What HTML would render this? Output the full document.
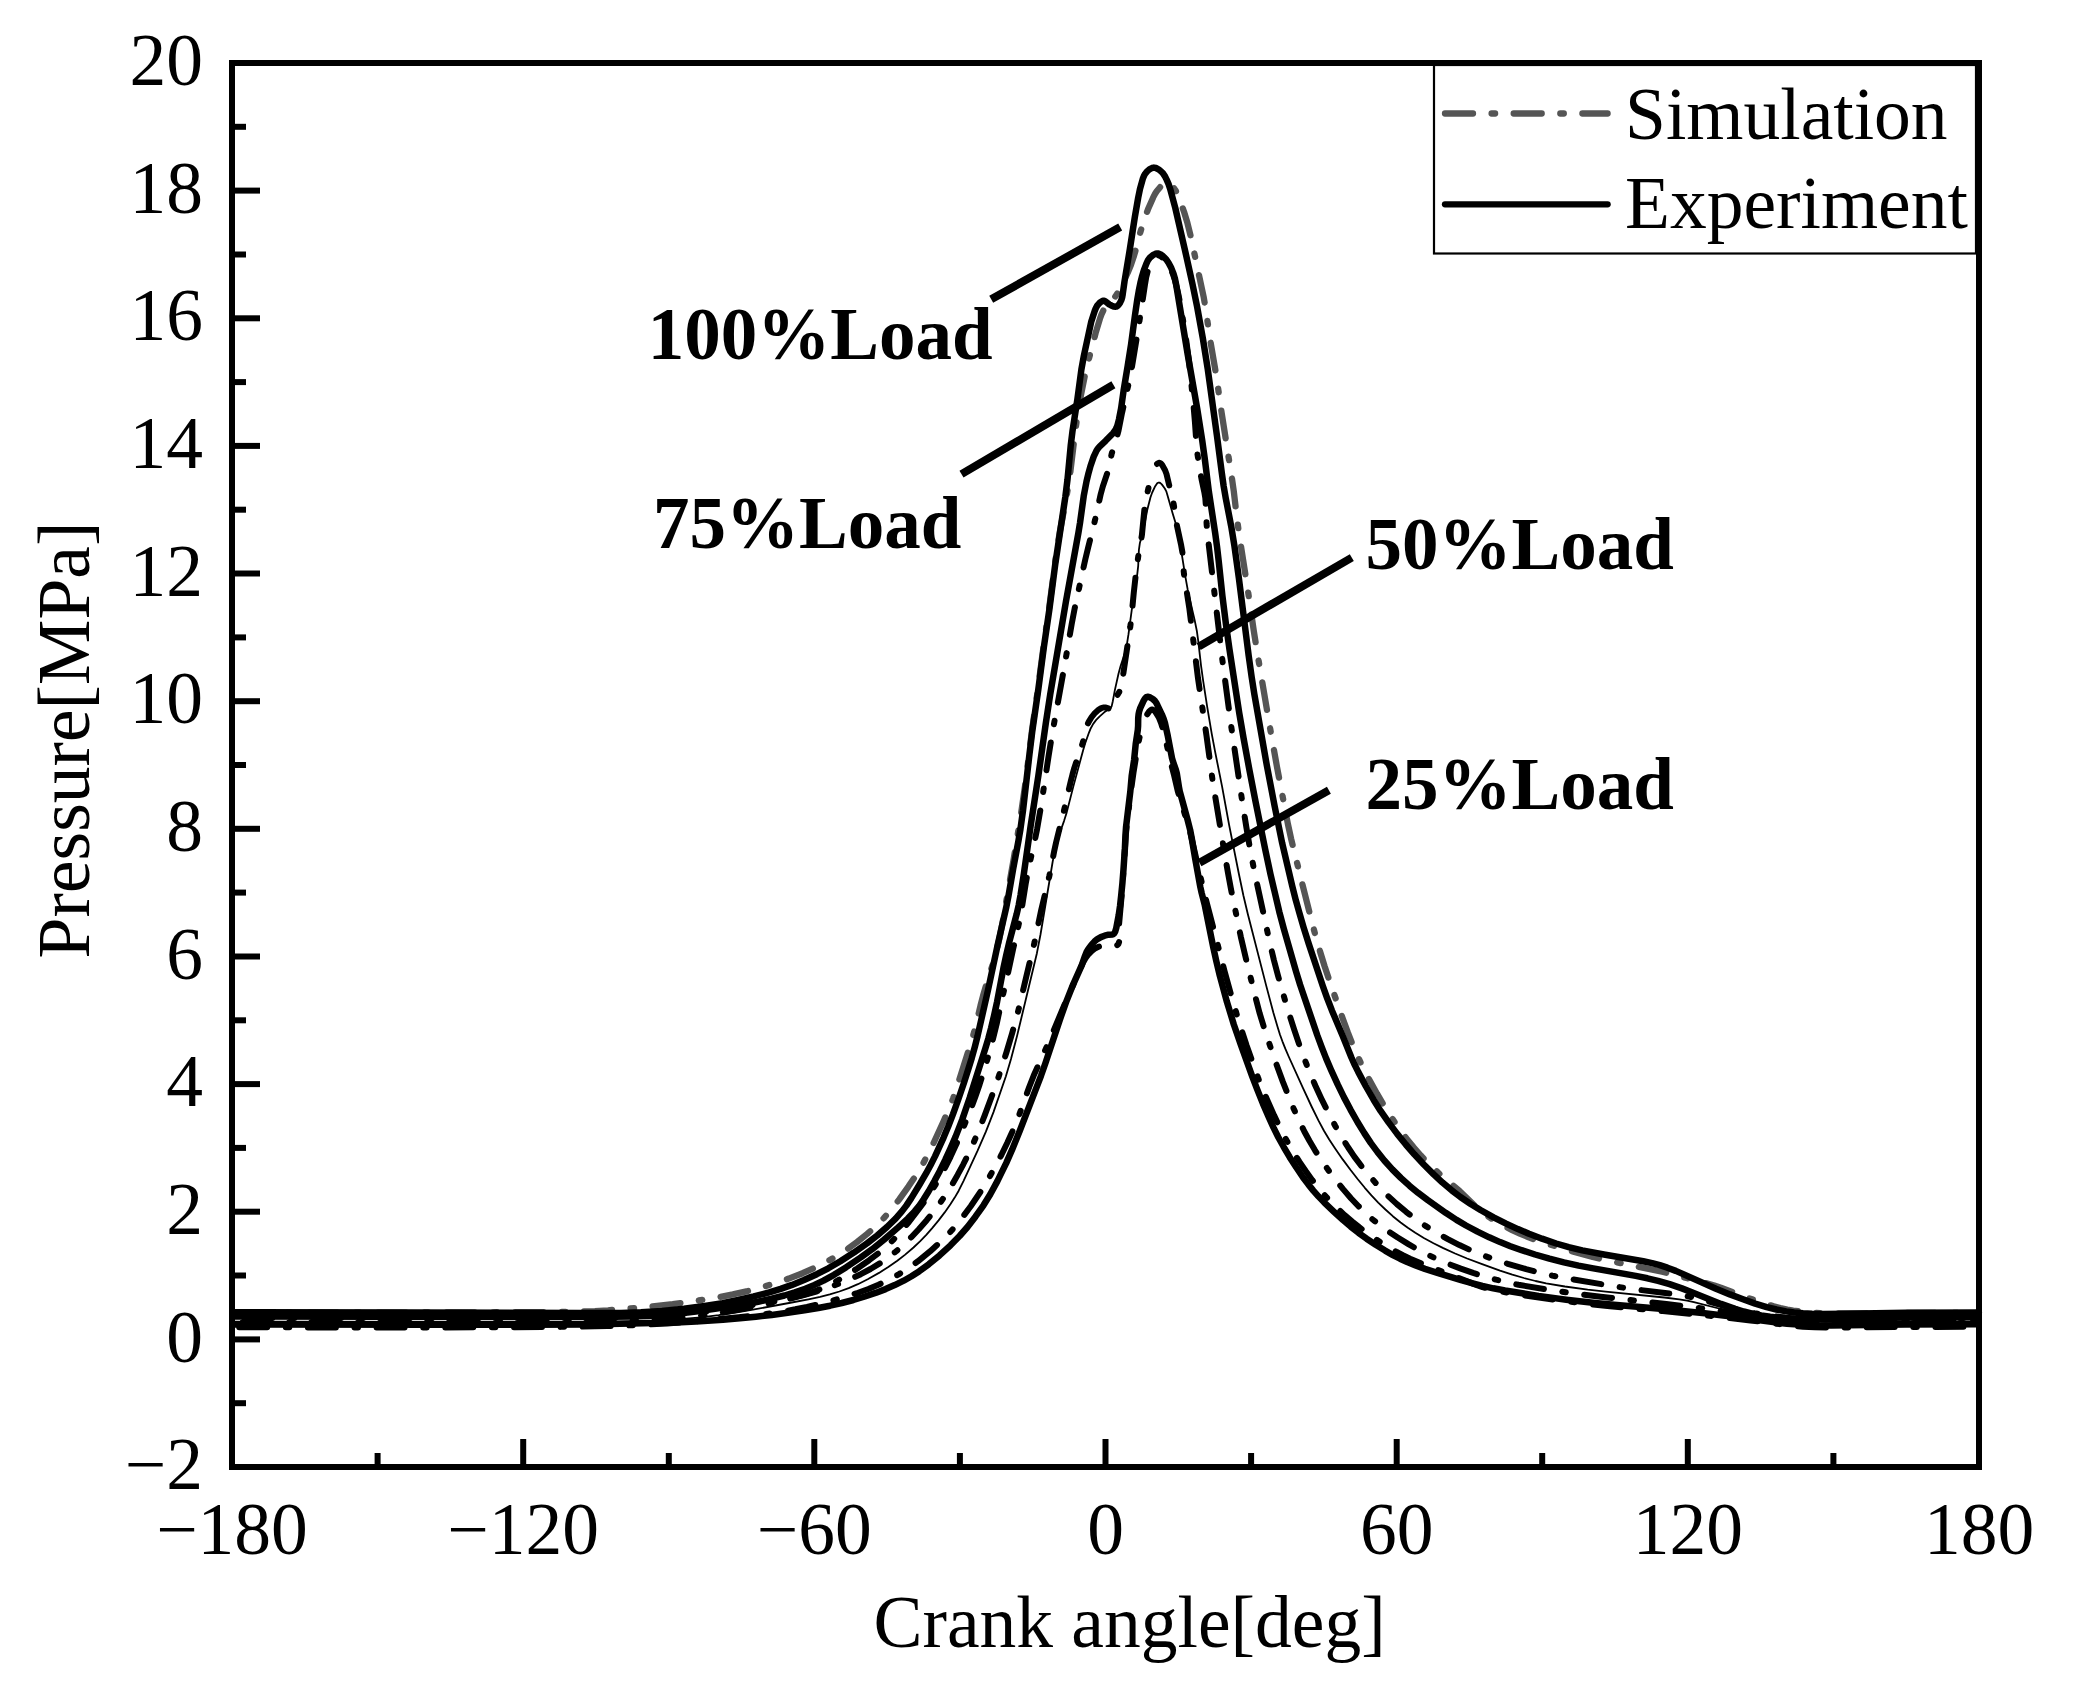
<!DOCTYPE html>
<html lang="en"><head><meta charset="utf-8"><title>Cylinder pressure: simulation vs experiment</title>
<style>html,body{margin:0;padding:0;background:#fff}body{width:2074px;height:1703px;overflow:hidden}svg{display:block}text{font-family:'Liberation Serif','Times New Roman',Times,serif;fill:#000}</style></head><body>
<svg width="2074" height="1703" viewBox="0 0 2074 1703">
<rect width="2074" height="1703" fill="#fff"/>
<g fill="none" stroke-linejoin="round">
<path d="M232.0 1312.6l171 0l141.1 -0.5l37 -0.5l13.9 -0.5l13 -0.8l41.9 -3.6l22.8 -2.5l25.8 -3.7l19.7 -3.2l14.7 -2.9l14.7 -3.3l13.5 -3.5l14.3 -4.4l13.3 -4.6l13.9 -5.4l12.8 -5.7l10.7 -5.4l10.4 -5.9l10.1 -6.5l10.5 -7.7l10.1 -8.1l8.9 -8l7.7 -7.8l7.3 -8.3l8 -10.2l9.3 -13l7.8 -11.6l6.7 -11.2l5.2 -9.6l5.3 -10.8l10.4 -22.7l6 -13.8l3.3 -8.3l3.2 -9.5l16 -50.5l3.2 -11.6l5 -21.4l2.5 -9.6l2.8 -9.6l6.9 -22l3 -10.5l3.5 -14.6l3.5 -17.7l10.9 -62l7.1 -43.5l5.1 -35.6l6.4 -51.6l5.7 -39.6l5.6 -42.6l5.4 -36.7l7.3 -55.5l3.8 -23.7l6.2 -32.4l2 -11.8l2.3 -15.9l4.3 -35.7l2 -14.9l4.1 -24.6l4.3 -21.6l1.8 -7.8l8.6 -32.9l4.3 -14.4l1.7 -4.7l1.7 -3.6l1.6 -2.5l2 -2.3l6.2 -6.5l1.9 -2.3l1.7 -2.5l2.5 -4.3l2.8 -5.3l5.6 -11.8l3.4 -8.3l2.6 -7.6l2.8 -9.6l4 -15.5l4.4 -14.3l3.2 -8.4l5.2 -11.9l1.9 -3.6l1.6 -2.5l3.8 -4.6l1.5 -1.4l1.6 -1.1l1.9 -0.7l1 0" stroke="#555" stroke-width="6.3" stroke-dasharray="28 18.60 3.5 18.60" stroke-linecap="round" stroke-dashoffset="60.1"/>
<path d="M1166.5 183.5l1.9 0.5l2.6 1.5l2.9 2.7l1.8 2.4l1.8 3.6l1.5 3.7l5.1 14.1l3.2 10.5l3.6 14.6l12.9 60.6l1.5 8.9l5.1 34.6l5.9 34.5l5.4 37.6l10.4 66.2l1.7 11.9l3.4 28.8l2.3 16.8l8.4 53.4l5.9 40.6l3.8 23.7l12.9 75.9l6.5 36.4l10.9 57l3.2 14.7l4.5 18.4l16.3 65l4.4 16.4l4.2 14.5l4.1 13.3l5.1 15.2l11.9 34l6.2 16.9l5.1 13l4.8 11l5.1 10.8l6 11.6l8.2 14.9l8.1 13.8l7 10.9l7.3 10.7l7.2 9.6l7 8.6l7.2 8.2l7.6 8l5.8 5.5l5.1 4.7l20.5 17.5l15.8 15.2l7.5 6.5l5.7 4l6.7 4.3l7.8 4.4l8.9 4.5l8.2 3.8l8.3 3.4l8.4 3.1l9.5 3.1l27.8 8.5l18.3 5l19.5 4.4l49.9 10.3l9.7 2.4l34.8 9.3l7.7 2.2l6.6 2.2l28.1 10.5l17 5.7l7.7 2.3l6.7 1.8l6.9 1.5l5.9 1l8.9 1.2l8.9 0.8l11 0.6l13 0.3l19 0l55 -0.5l70 -0.2" stroke="#555" stroke-width="6.3" stroke-dasharray="28 18.60 3.5 18.60" stroke-linecap="round" stroke-dashoffset="37.6"/>
<path d="M232.0 1312.3l179 0.2l168.1 0.5l42 -0.1l19.9 -0.6l21 -1.4l21.9 -2.1l20.8 -2.8l17.8 -2.9l15.7 -3.1l15.6 -3.6l15.4 -4l11.5 -3.5l11.3 -4l12 -4.9l12.8 -5.8l11.5 -5.9l12.1 -7.1l13.5 -8.6l13.1 -9.2l10.2 -7.9l9.8 -8.5l8.6 -8.4l6.5 -7.5l4.2 -5.5l5 -7.5l8.3 -13.6l6.6 -11.3l4.3 -7.9l4.5 -8.9l8.7 -19.1l4.6 -11.1l4.7 -12.1l5.1 -14.1l5.8 -17l4.3 -13.4l3.5 -11.4l3.2 -11.6l2.7 -10.7l10.4 -45.8l9.4 -44l8.7 -38l2.3 -11.8l4.8 -27.6l5.2 -27.5l2 -11.8l2.6 -18.8l6.5 -56.7l2.8 -22.8l6 -41.6l5.6 -42.6l5.5 -37.6l5.8 -44.6l10.2 -68.3l2.1 -16.9l3.2 -33.8l1.7 -13.9l5 -32.6l4 -29.8l2.5 -13.8l7.4 -34.2l3.4 -10.4l1.1 -2.8l1.4 -2.6l2 -2.3l1.5 -1.3l1.7 -1l1 -0.2l1 0l0.9 0.5l3.9 3.1l2.7 1.3l1.8 0.8l2 0.2l0.9 -0.2l0.9 -0.6l1.4 -1.4l1.1 -1.6l1.3 -2.7l0.9 -2.9l0.5 -2.9l1.8 -12.9l5.4 -32.6l4.9 -31.6l3.4 -19.7l1.8 -8.8l3 -10.6l1.2 -2.8l1 -1.7l1.9 -2.3l2.3 -2l2.6 -1.4l1.9 -0.4l2 0.4l2.6 1.3l2.4 1.9l2.1 2.1l1.7 2.5l1.8 3.6l2 4.5l1.6 4.8l5.2 19.3l9.4 40.9l7.8 35.2l4.6 22.5l5.7 31.5l4.9 30.6l9.3 67.4l4.8 36.7l1.8 12.9l2.2 12.8l5.7 29.4l2.9 17.8l4.5 32.7l9.8 77.4l2.9 20.8l2.8 17.8l12.4 70.9l7.9 41.2l7.4 36.3l10 42.8l3.7 14.6l3.5 12.5l4.2 14.4l5.4 17.2l13.9 41.7l4.4 12.3l4.7 12.1l10.5 24.8l9 22.3l3.3 7.3l3.5 7.1l7.5 14.1l8 13.9l6.9 11l8 11.5l8.4 11.2l8.8 10.9l8.5 9.8l9.5 10.2l9.9 9.9l8.8 8.2l9.2 7.7l8.7 6.7l9.9 6.7l10.2 6.3l13.1 7.3l12.5 6.3l11.8 5.5l11.1 4.6l13 5l14.2 4.8l12.5 3.7l13.6 3.2l21.6 4.1l39.4 6.8l8.8 1.8l7.7 2.1l7.6 2.5l8.4 3.2l40.2 17.8l13.9 5.7l13.1 4.9l12.2 4.3l11.5 3.5l9.7 2.4l9.8 1.9l7.9 1.1l8.9 0.8l9 0.5l11 0.1l22 -0.1l61 -1l73 -0.3" stroke="#000" stroke-width="6.5"/>
<path d="M232.0 1318.0l226 0.2l85 0.4l41 -0.3l39 -1.2l39 -2.1l17.9 -1.3l17 -1.5l14.9 -1.5l14.9 -1.8l15.8 -2.2l16.8 -2.7l14.8 -2.6l13.7 -2.8l10.7 -2.5l9.6 -2.6l7.6 -2.6l7.3 -3l9.9 -4.8l11.3 -6.4l12.7 -8l12.3 -8.5l8.8 -6.6l8.3 -7.1l7.2 -6.9l7.5 -8.1l7 -8.4l8.6 -11.1l7.8 -10.4l6.2 -9.1l4.8 -7.6l5 -8.6l5.2 -9.7l4.9 -9.8l5.9 -12.7l6.2 -14.7l6.8 -16.8l5.6 -14.9l4.6 -13.3l4.5 -14.2l4.6 -15.4l4.2 -15.4l3.8 -15.6l5.2 -24.4l6.3 -27.3l5 -23.5l6 -26.3l2.4 -12.7l4.1 -25.7l2.1 -11.8l2.3 -10.8l4.8 -21.4l2.2 -10.8l4.2 -24.7l7.3 -48.4l3.5 -21.7l12.3 -67.9l7.3 -42.4l3 -15.7l10.6 -48.9l2.8 -11.7l6.8 -27.1l5.8 -26.4l2.1 -7.7l4.8 -14.3l1.2 -4.8l2.9 -13.7l5 -16.2l1.8 -6.8l3.5 -17.7l6.6 -29.2l3.5 -17.7l6.8 -41.4l6 -39.6l1.3 -7.9l1.2 -4.8l1.9 -5.7l1.7 -3.7l2.1 -3.3" stroke="#000" stroke-width="6.0" stroke-dasharray="28 18.60 3.5 18.60" stroke-linecap="round" stroke-dashoffset="56.3"/>
<path d="M1153.1 259.7l1.9 -2.4l1.5 -1.3l0.9 -0.4l1 -0.1l1 0.2l0.9 0.4l1.7 1.1l2.9 2.7l1.9 2.4l2.1 3.4l1.8 3.5l2.1 4.6l2.2 6.6l2.9 11.7l2 9.7l1.5 7.9l4.8 30.6l2.7 19.8l1.5 14l3.5 35.8l1.1 13l1.5 21.9l0.9 9l2.2 14.8l2.2 11.8l2.5 11.7l1 6l0.6 7.9l0.7 18l1.1 11.9l14.7 124.2l8.7 65.4l11.3 77.2l4 24.7l3.7 21.7l4.3 22.5l15.9 73.4l3.7 15.5l4.1 15.5l4.6 16.4l5.7 19.1l5.8 18.1l5.4 16.1l4.8 13.2l5.1 13l5.9 13.8l6.7 14.5l6.7 13.5l6.5 12.3l6.5 11.3l6.4 10.2l6.1 9.1l7.2 9.6l8.2 10l9.3 10.5l9.1 9.3l8.8 8.1l9.2 7.7l9.5 7.3l9.9 6.8l11 6.9l11.3 6.3l11.6 6l11.8 5.4l12 4.9l11.3 4.1l13.3 4.3l18.3 5.3l15.4 4l10.7 2.5l11.8 2.3l51.3 8.6l21.8 3.1l37.7 4.6l10.8 1.7l6.9 1.4l6.8 1.6l30.8 8.7l15.5 3.8l8.8 1.8l9.9 1.7l10.8 1.5l10 1.2l8.9 0.8l10 0.6l21 0.4l19 -0.1l61 -1.3l74 0" stroke="#000" stroke-width="6.0" stroke-dasharray="28 18.60 3.5 18.60" stroke-linecap="round" stroke-dashoffset="39.0"/>
<path d="M232.0 1316.5l321.1 0.5l38 -0.1l41 -0.5l22 -0.7l18.9 -1.5l22.9 -2.7l32.7 -4.6l15.8 -2.6l13.7 -2.6l13.7 -3l12.6 -3.2l10.5 -3.2l10.4 -3.6l9.2 -3.8l9 -4.3l10.5 -5.8l11.9 -7.4l14.9 -10l11.4 -8.2l11.7 -9.4l14.3 -12.4l9.6 -8.8l6.8 -7.2l4.4 -5.4l4.5 -6.5l5.3 -8.5l5.9 -10.4l5.1 -9.7l5.3 -10.8l5.4 -11.8l5.2 -11.9l6.5 -16.8l7.5 -21.8l15.7 -49.5l2.9 -9.6l2.8 -10.6l3 -12.7l3 -13.7l6.3 -33.4l2.7 -12.7l3.2 -13.6l7.4 -28.1l2 -8.7l1.8 -9.9l3.4 -21.7l6.7 -47.5l7.8 -50.5l7.4 -52.4l4.4 -28.7l15.7 -92.7l12.5 -68.9l1.6 -9.9l3.7 -26.8l2.8 -14.7l2.1 -8.7l1.9 -6.8l3.2 -9.4l2.6 -5.5l1.6 -2.5l1.9 -2.3l5.8 -5.5l7.7 -7.9l2.3 -3.3l0.9 -1.8l1 -2.8l1.5 -5.8l2.1 -10.8l2.5 -17.8l4.1 -24.7l3.4 -21.7l4 -29.8l2.2 -14.8l1.5 -8.9l1.6 -7.8l1.7 -6.8l1.7 -5.8l2.5 -6.5l1.7 -3.6l1.8 -2.4l3 -2.6l2.7 -1.4l1.9 -0.4l1 0.1l1.9 0.7l2.5 1.7l3.5 3.6l2.2 3.3l2.8 5.3l2.2 5.6l1.4 4.8l1.2 5.8l11.6 70.1l9.5 54.2l5 31.6l2.6 18.8l4.1 32.8l6.3 41.5l1.9 13.9l1.5 12.9l3.8 35.8l3.6 28.8l3.5 24.8l9.7 63.2l4.4 25.7l5.8 31.5l6.1 31.4l9.7 48l5.2 24.5l8.9 38l4.6 17.4l12.4 43.2l3.8 12.4l17.1 50.2l4.5 12.2l4.4 11.2l5.5 12.8l6.3 13.7l6.1 12.5l6.6 12.4l6.9 12.2l6.8 11.1l6.6 10l6.5 8.8l6.9 8.6l8 8.9l8.5 8.5l8.9 8l8.5 7l9.6 7.2l17.9 12.7l10.8 7.1l9.5 5.6l11.5 6.1l11.7 5.7l10.9 4.8l10.3 4.1l11.3 4l13.3 4.3l14.4 4.2l14.5 3.7l14.7 3.2l14.7 2.8l42.4 7.5l11.7 2.4l10.7 2.6l11.5 3.3l12.3 4.2l11.2 4.3l27.9 11.2l14.1 5l8.6 2.6l8.7 2.1l8.8 1.8l8.9 1.4l8.9 1l10 0.7l11 0.4l15 0.1l24 -0.2l67 -1.3l73 -0.5" stroke="#000" stroke-width="6.5"/>
<path d="M232.0 1322.5l228 0.3l79 0.4l34 -0.1l33 -0.8l36 -1.6l28.9 -1.9l24.9 -2.4l15.9 -2.1l16.8 -2.8l19.6 -3.7l23.5 -4.9l16.6 -3.8l14.5 -3.7l13.5 -3.8l12.3 -4.1l11.3 -4.1l11.1 -4.6l9.9 -4.6l9.7 -5.2l9.4 -5.7l8.2 -5.7l7.8 -6.1l7.6 -6.6l7.8 -7.7l7.5 -8l7.9 -9l6.9 -8.6l6.6 -8.8l5.6 -8.2l5.9 -9.3l5.9 -10.4l5.7 -10.6l5.3 -10.8l5 -10.9l5.1 -11.9l5.8 -14.9l7 -18.8l5.4 -15l4.7 -14.3l4.8 -15.2l5.7 -19.2l3.8 -13.5l3 -11.6l7.5 -32.1l8.2 -34.1l6.7 -32.3l8.1 -34l4.8 -24.5l1.9 -8.8l7.7 -31l7 -30.3l1.7 -6.7l1.9 -6.8l8.6 -25.6l3.4 -14.6l1 -2.8l1.3 -2.7l3.1 -5.1l3.2 -3.9l3.8 -3.3l2.5 -1.5l1.9 -0.6l2 0l3.9 1.1l2 0.2l0.9 -0.3l0.7 -0.7l0.6 -1.9l0.7 -4l0.5 -1.9l4.6 -7.7l1.1 -2.8l0.8 -2.9l2 -10.8l7.2 -48.5l1.2 -9.9l2.4 -24.9l2.1 -18.9l2.7 -19.8l2.5 -13.8l0.8 -4.9l2.7 -27.9l1.3 -7.9l3.1 -13.6l2.1 -10.8" stroke="#000" stroke-width="6.0" stroke-dasharray="28 18.60 3.5 18.60" stroke-linecap="round" stroke-dashoffset="58.2"/>
<path d="M1151.1 474.9l0.8 -2.9l1.1 -2.8l1.6 -2.6l1.9 -2.2l1.6 -1.2l1 -0.4l0.9 0.1l0.9 0.6l1.3 1.5l2.9 5.2l1.4 3.8l7.2 30.1l3.3 21.8l4.2 19.5l1.2 6.9l0.6 5l0.4 11l0.6 5.9l5.4 34.6l8.6 69.5l8.5 57.4l6.2 45.6l11.7 71l3.6 20.7l3.1 16.7l9.7 47l5.7 24.4l9.4 37.8l3.8 14.5l4.1 13.4l5.6 17.1l6.5 18.9l6.9 18.8l5.5 14l5.3 12.9l5.3 11.9l5.3 10.8l5.2 9.6l5.6 9.5l5.9 9.2l6.9 9.9l7.8 10.4l7.5 9.3l7.8 9.1l7.6 8l7.1 7l6.7 6l7 5.6l8.1 5.9l9.9 6.6l11.1 6.8l10.4 6l9.8 5l10 4.7l10.1 4.2l12.1 4.6l12.3 4.3l11.5 3.6l11.5 3.2l10.7 2.6l11.7 2.5l27.7 4.5l27.7 4.1l26.8 3.3l65.6 7.3l26.8 3.2l21.8 3l61.3 9.2l11.9 1.6l9.9 1l13 0.7l18 0.3l77 -0.5l73 0" stroke="#000" stroke-width="6.0" stroke-dasharray="28 18.60 3.5 18.60" stroke-linecap="round" stroke-dashoffset="56.0"/>
<path d="M232.0 1321.7l309 0.3l57 -0.2l35 -0.5l24 -0.7l23 -1.4l20.9 -1.9l17.9 -2.2l19.7 -3l15.8 -2.7l37.4 -6.9l16.7 -3.2l11.7 -2.5l9.7 -2.4l9.6 -2.9l9.3 -3.4l9.2 -3.9l9.8 -5l11.3 -6.3l9.3 -5.9l9 -6.3l7.9 -6.1l8.3 -7.1l6.5 -6.2l6.3 -6.5l5.9 -6.7l6.4 -7.7l6.1 -8l5.7 -8.1l4.3 -6.7l4 -6.9l4.9 -9.9l13.9 -29.9l8.4 -19.2l7.6 -19.6l12.4 -35.8l5.1 -17.3l6.1 -23.2l19.8 -82.6l3.6 -18.7l12.2 -73l2.9 -14.6l2.6 -9.4l5.8 -16.4l2.4 -7.5l6.9 -27l9.9 -36.7l2 -6.7l3.7 -10.4l1.9 -4.6l2.4 -4.3l3 -4l3.5 -3.6l4.5 -4l5.9 -3.7l0.7 -0.7l0.9 -1.8l1.1 -4.9l2 -10.8l3.7 -16.6l2.1 -7.7l4.4 -13.3l1 -3.9l1.1 -5.8l1.4 -8.9l3.2 -23.8l4.1 -25.7l1.5 -10.9l0.9 -8l0.7 -15.9l1 -7l3.4 -12.5l4 -20.6l3.2 -12.6l1.7 -4.7l3 -6.3l1.7 -2.5l0.7 -0.7l0.9 -0.4l1 0l0.9 0.5l1.4 1.3l3 4.1l1.4 2.6l0.9 2.9l5.5 19.2l2.9 9.6l1.7 6.8l3.6 18.6l4.6 28.7l2.3 12.8l1.9 8.8l5 21.4l2.2 10.8l1.4 9.9l2.8 24.8l2.2 15.8l4 25.7l4.5 26.7l3.5 18.6l6.9 34.4l7 38.3l9.8 49.1l4.5 21.5l4.4 18.5l18.4 71.6l7.2 27.1l4.2 14.4l2.4 7.6l2.4 6.6l2.9 7.4l3.6 8.3l14 30.9l8.9 19.1l6.6 13.4l5.7 10.6l5.1 8.5l6.1 9.2l7.4 10.7l7.7 10.4l7.4 9.5l7 8.5l6.6 7.5l6.8 7.3l7.2 6.9l7.4 6.7l7.8 6.3l7.2 5.3l7.5 5l8.5 5.2l9.7 5.2l9.8 4.9l11.8 5.4l12 5l15 5.7l17.9 6.4l12.3 4l11.6 3.4l11.6 3l10.7 2.3l18.7 3.2l22.8 3.1l17.9 2l58.7 5.9l14.9 1.9l7.9 1.3l6.8 1.4l31 7.9l8.8 1.9l9.8 1.9l9.8 1.7l10.9 1.5l31.8 3.4l18 1.1l22 0.5l70 -0.5l73 0" stroke="#000" stroke-width="1.8"/>
<path d="M232.0 1327.3l197.1 0.2l86 -0.3l56 -0.4l36 -0.7l29 -1l31 -1.6l27.9 -2.1l43.8 -4.2l16.9 -1.9l14.9 -2l12.9 -1.9l11.8 -2.1l11.7 -2.4l11.7 -2.7l14.5 -3.8l13.5 -3.9l11.4 -3.7l10.3 -3.8l10.1 -4.3l10 -4.7l9.6 -5.3l8.4 -5.3l11.4 -8.1l12.4 -10.1l11.1 -10.1l5.6 -5.7l4.8 -5.1l9.6 -11.5l9.5 -12.8l9.5 -14.1l9.3 -15.4l6.3 -11.4l5.6 -10.6l5.7 -11.7l4.9 -10.9l7.2 -17.6l9.8 -27.3l4.4 -11.2l15.2 -33.7l13.9 -33.2l10 -22.9l5.8 -13.9l4.7 -9.9l2.5 -4.3l2.4 -3.2l3.5 -3.6l3.2 -2.4l3.5 -1.9l3.9 -1.1l5.9 -0.7l2 0.1l4 0.5l2 0l0.9 -0.3l0.8 -0.6l0.6 -0.8l0.7 -1.9l0.2 -2.9l-0.4 -10l0.1 -4l3.3 -36.9l3.6 -53.9l1.3 -12.9l3.9 -31.8l2.4 -16.9l4.6 -28.6l1.9 -8.8l2.6 -10.7" stroke="#000" stroke-width="6.0" stroke-dasharray="28 18.60 3.5 18.60" stroke-linecap="round" stroke-dashoffset="61.5"/>
<path d="M1142.6 724.6l1.5 -4.7l2.4 -4.5l2.8 -4.1l1.5 -1.3l0.9 -0.4l1 0l0.9 0.5l1.4 1.4l1.2 1.6l2.6 4.3l2.2 5.5l2.1 6.7l2 7.7l5.2 23.5l3.8 14.5l3.6 15.6l4.6 15.3l5.7 18.1l2.2 7.8l10 43.8l4.9 20.5l19.4 74.5l6.9 25.1l8.1 27.8l7.2 21.9l11.7 33l4.4 11.1l5.2 12l6.1 13.6l5.2 10.9l4.5 8.9l4.8 8.8l5 8.6l5.9 9.3l6.2 9.1l6.4 8.9l6.2 7.9l5.8 6.8l6.1 6.6l6.4 6.4l8 7.5l7.6 6.5l7 5.6l8 6l7.4 5.2l7.5 4.9l7.7 4.7l6.9 4l6.2 3.2l7.2 3.5l15.6 6.7l28.1 10.6l20.4 8.1l8.4 3l7.7 2.1l7.8 1.7l9.8 1.8l13.8 2.3l35.7 5.1l30.8 3.8l21.8 2.3l52.8 4.9l42.8 4.2l44.8 5.1l41.6 5.3l11 1.1l11.9 0.5l17 0.2l74.1 -0.5l73 -0.2" stroke="#000" stroke-width="6.0" stroke-dasharray="28 18.60 3.5 18.60" stroke-linecap="round" stroke-dashoffset="57.3"/>
<path d="M232.0 1324.5l203.1 0.3l99 -0.1l51 -0.3l24 -0.3l67 -1.5l20 -1l26.9 -1.9l17 -1.4l15.9 -1.6l15.9 -1.8l15.9 -2.1l16.8 -2.5l13.8 -2.3l11.8 -2.3l11.7 -2.7l11.6 -3l11.5 -3.5l11.3 -3.8l9.4 -3.6l9.1 -4l9 -4.4l7.8 -4.5l7.5 -4.8l9.7 -7.1l10.8 -8.9l11 -10.1l9.1 -9.3l7.9 -9l7.9 -10.3l8.1 -11.4l6.8 -11l7.1 -13.2l8.8 -18l6 -13.7l7.6 -18.6l21.2 -55l4.3 -12.3l14.5 -43.6l6 -17l7.4 -18.6l8.6 -19.2l3.3 -9.4l1.5 -3.7l2 -3.4l3 -4l2.8 -3l3 -2.5l3.5 -2l3.7 -1.4l3.9 -1l4 -0.3l0.9 -0.3l0.8 -0.7l1 -1.7l1.1 -3.8l2.4 -12.8l1.3 -8.9l1.2 -10.9l1.2 -12l1.1 -14l1.4 -20.9l0.6 -14l0.5 -7l4.3 -35.7l1.4 -16l2.4 -15.8l1.6 -15.9l2.1 -13.9l0.3 -4l0.1 -8l0.4 -4l0.6 -2.9l0.9 -2.8l3.8 -8.2l1.1 -1.7l1.4 -1.4l1 -0.3l0.9 0l1.9 0.6l2.6 1.6l2.2 2l1.1 1.6l1.4 2.7l4.3 9l1.9 4.7l1.2 3.8l2.8 12.7l4.3 22.6l1.1 3.8l2.7 7.6l1 3.8l2.2 13.9l0.7 3.9l7.7 28l2.7 10.6l1.7 8.9l3.3 19.7l5.2 28.6l1.3 5.8l3.2 12.6l8.3 41.2l3.2 14.6l3.5 14.6l7.1 26.1l7 22.9l6.9 19.9l11.5 32l5 13.1l5.6 13.9l6 13.8l4.5 10l4.9 9.8l5.3 9.6l6.1 10.4l6.5 10.1l6.7 9.9l5.4 7.2l5 6.2l5.3 6l5.5 5.7l9.4 9l9.6 8.8l7.6 6.5l7.8 6.2l8.1 5.9l9.1 6.1l9.4 5.8l7.8 4.5l7.1 3.6l7.2 3.3l8.4 3.4l9.3 3.5l13.3 4.3l22.1 6.6l12.5 3.6l9.6 2.5l10.8 2.4l11.8 2.2l33.5 5.4l27.8 3.8l28.8 3.3l18.9 1.8l51.9 4.5l38.8 3.9l22.8 2.8l47.6 6.4l11.9 1.3l11 0.9l15 0.7l18 0.1l74 -0.9l74 -0.2" stroke="#000" stroke-width="6.5"/>
</g>
<g stroke="#000" stroke-width="8" fill="none">
<line x1="991.2" y1="299.3" x2="1120.2" y2="227.1"/>
<line x1="961.5" y1="474.1" x2="1113.4" y2="384.7"/>
<line x1="1198.7" y1="646.6" x2="1351.8" y2="557.6"/>
<line x1="1199.5" y1="862.7" x2="1328.9" y2="790.3"/>
</g>
<rect x="1434" y="65" width="542" height="188.5" fill="#fff" stroke="#000" stroke-width="2.2"/>
<line x1="1445" y1="113.5" x2="1607.6" y2="113.5" stroke="#555" stroke-width="6.3" stroke-linecap="round" stroke-dasharray="28 18.6 3.5 18.6"/>
<line x1="1445" y1="204.3" x2="1607.6" y2="204.3" stroke="#000" stroke-width="6.3" stroke-linecap="round"/>
<text x="1625" y="139.2" font-size="73.5">Simulation</text>
<text x="1625" y="228" font-size="73.5">Experiment</text>
<g stroke="#000" stroke-width="6" fill="none" stroke-linecap="butt">
<rect x="232.0" y="63.0" width="1747.0" height="1404.0"/>
<line x1="377.6" y1="1467.0" x2="377.6" y2="1453.0"/>
<line x1="523.2" y1="1467.0" x2="523.2" y2="1439.0"/>
<line x1="668.8" y1="1467.0" x2="668.8" y2="1453.0"/>
<line x1="814.3" y1="1467.0" x2="814.3" y2="1439.0"/>
<line x1="959.9" y1="1467.0" x2="959.9" y2="1453.0"/>
<line x1="1105.5" y1="1467.0" x2="1105.5" y2="1439.0"/>
<line x1="1251.1" y1="1467.0" x2="1251.1" y2="1453.0"/>
<line x1="1396.7" y1="1467.0" x2="1396.7" y2="1439.0"/>
<line x1="1542.2" y1="1467.0" x2="1542.2" y2="1453.0"/>
<line x1="1687.8" y1="1467.0" x2="1687.8" y2="1439.0"/>
<line x1="1833.4" y1="1467.0" x2="1833.4" y2="1453.0"/>
<line x1="232.0" y1="1403.2" x2="246.0" y2="1403.2"/>
<line x1="232.0" y1="1339.4" x2="260.0" y2="1339.4"/>
<line x1="232.0" y1="1275.5" x2="246.0" y2="1275.5"/>
<line x1="232.0" y1="1211.7" x2="260.0" y2="1211.7"/>
<line x1="232.0" y1="1147.9" x2="246.0" y2="1147.9"/>
<line x1="232.0" y1="1084.1" x2="260.0" y2="1084.1"/>
<line x1="232.0" y1="1020.3" x2="246.0" y2="1020.3"/>
<line x1="232.0" y1="956.5" x2="260.0" y2="956.5"/>
<line x1="232.0" y1="892.6" x2="246.0" y2="892.6"/>
<line x1="232.0" y1="828.8" x2="260.0" y2="828.8"/>
<line x1="232.0" y1="765.0" x2="246.0" y2="765.0"/>
<line x1="232.0" y1="701.2" x2="260.0" y2="701.2"/>
<line x1="232.0" y1="637.4" x2="246.0" y2="637.4"/>
<line x1="232.0" y1="573.5" x2="260.0" y2="573.5"/>
<line x1="232.0" y1="509.7" x2="246.0" y2="509.7"/>
<line x1="232.0" y1="445.9" x2="260.0" y2="445.9"/>
<line x1="232.0" y1="382.1" x2="246.0" y2="382.1"/>
<line x1="232.0" y1="318.3" x2="260.0" y2="318.3"/>
<line x1="232.0" y1="254.5" x2="246.0" y2="254.5"/>
<line x1="232.0" y1="190.6" x2="260.0" y2="190.6"/>
<line x1="232.0" y1="126.8" x2="246.0" y2="126.8"/>
</g>
<g font-size="73.5">
<text x="232.0" y="1554" text-anchor="middle">−180</text>
<text x="523.2" y="1554" text-anchor="middle">−120</text>
<text x="814.3" y="1554" text-anchor="middle">−60</text>
<text x="1105.5" y="1554" text-anchor="middle">0</text>
<text x="1396.7" y="1554" text-anchor="middle">60</text>
<text x="1687.8" y="1554" text-anchor="middle">120</text>
<text x="1979.0" y="1554" text-anchor="middle">180</text>
<text x="203" y="1489.1" text-anchor="end">−2</text>
<text x="203" y="1361.5" text-anchor="end">0</text>
<text x="203" y="1233.8" text-anchor="end">2</text>
<text x="203" y="1106.2" text-anchor="end">4</text>
<text x="203" y="978.6" text-anchor="end">6</text>
<text x="203" y="850.9" text-anchor="end">8</text>
<text x="203" y="723.3" text-anchor="end">10</text>
<text x="203" y="595.6" text-anchor="end">12</text>
<text x="203" y="468.0" text-anchor="end">14</text>
<text x="203" y="340.4" text-anchor="end">16</text>
<text x="203" y="212.7" text-anchor="end">18</text>
<text x="203" y="85.1" text-anchor="end">20</text>
</g>
<text x="1129.5" y="1647" font-size="73.5" text-anchor="middle">Crank angle[deg]</text>
<text transform="translate(89.2,740) rotate(-90)" font-size="73.5" text-anchor="middle">Pressure[MPa]</text>
<g font-size="73" font-weight="bold">
<text x="647.7" y="359.4">100%Load</text>
<text x="653" y="548.4">75%Load</text>
<text x="1365.6" y="568.5">50%Load</text>
<text x="1365.6" y="809.3">25%Load</text>
</g>
</svg></body></html>
